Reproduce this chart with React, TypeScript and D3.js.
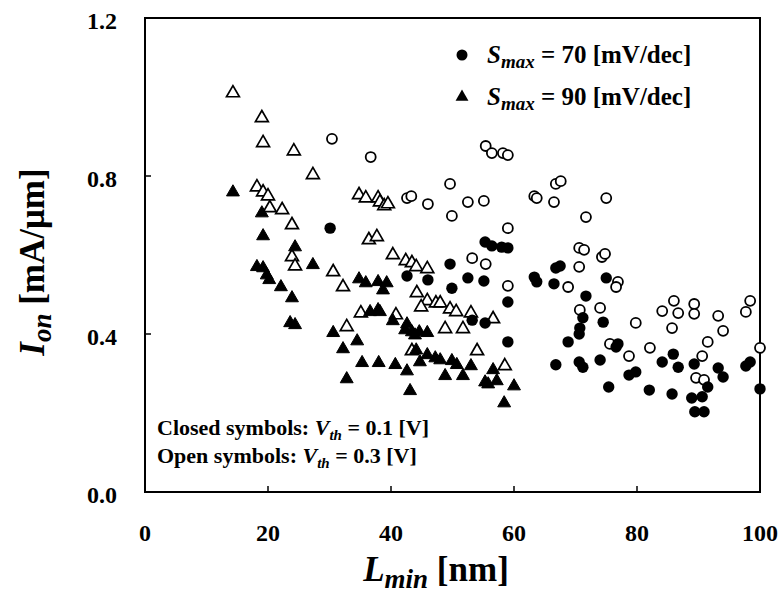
import React from "react";
import * as d3 from "d3";

// ---- data (L_min [nm], I_on [mA/um]) ----
const closedCircleX = [30.1,55.3,56.4,58.0,59.0,49.6,42.6,46.0,52.5,55.1,49.9,63.3,63.7,59.0,53.2,55.3,59.0,66.8,67.5,66.5,75.0,71.7,71.2,70.7,70.6,74.5,68.8,76.9,76.6,66.8,70.6,71.2,74.0,78.7,79.8,75.4,82.0,84.1,85.9,86.7,85.7,89.3,88.9,90.6,89.4,90.9,91.5,93.2,94.0,97.7,98.4,100];
const closedCircleY = [0.668,0.633,0.623,0.620,0.618,0.577,0.547,0.537,0.542,0.534,0.516,0.544,0.532,0.481,0.435,0.428,0.380,0.567,0.572,0.527,0.542,0.496,0.441,0.415,0.400,0.430,0.380,0.375,0.367,0.322,0.329,0.316,0.334,0.296,0.304,0.266,0.258,0.329,0.349,0.316,0.248,0.324,0.238,0.241,0.203,0.203,0.266,0.314,0.291,0.319,0.329,0.261];

const openCircleX = [30.4,36.7,55.4,56.4,58.2,59.0,49.6,42.6,43.3,46.0,49.9,52.5,55.1,63.3,63.7,59.0,53.2,55.4,59.0,66.5,66.8,67.6,75.0,71.7,70.6,71.4,74.3,74.8,70.6,76.9,76.6,68.8,70.7,74.0,79.8,75.6,82.1,78.7,84.1,86.0,86.7,85.7,89.3,89.3,93.2,94.0,91.5,90.6,89.6,90.9,97.7,98.4,100];
const openCircleY = [0.894,0.848,0.876,0.858,0.858,0.853,0.780,0.744,0.749,0.729,0.699,0.734,0.737,0.749,0.744,0.668,0.592,0.577,0.522,0.734,0.780,0.787,0.744,0.696,0.618,0.613,0.595,0.603,0.570,0.532,0.519,0.519,0.461,0.466,0.428,0.375,0.365,0.344,0.458,0.484,0.453,0.415,0.476,0.451,0.446,0.408,0.380,0.344,0.289,0.284,0.456,0.484,0.365];

const closedTriX = [14.3,19.0,19.2,24.4,27.3,18.2,19.2,19.8,20.2,22.1,23.9,23.6,24.4,30.6,32.2,32.8,34.8,35.9,37.9,39.3,38.7,36.6,37.9,38.2,40.3,42.6,42.3,43.4,43.9,44.6,45.9,34.5,44.1,44.7,45.9,47.2,48.0,49.9,50.7,53.0,56.6,35.3,38.0,40.7,42.6,48.8,51.7,55.3,57.2,60.0,43.1,58.4,55.8];
const closedTriY = [0.759,0.706,0.648,0.620,0.575,0.570,0.567,0.549,0.537,0.519,0.491,0.428,0.423,0.403,0.362,0.286,0.539,0.529,0.532,0.529,0.511,0.456,0.461,0.456,0.433,0.425,0.410,0.405,0.397,0.405,0.403,0.382,0.359,0.329,0.347,0.339,0.334,0.332,0.322,0.319,0.309,0.327,0.327,0.322,0.306,0.294,0.294,0.278,0.281,0.268,0.256,0.225,0.273];

const openTriX = [14.3,19.0,19.2,24.2,27.3,18.2,19.2,20.0,20.3,22.3,23.9,23.9,24.4,30.6,32.2,32.8,34.8,35.9,37.9,38.2,38.9,39.5,36.4,37.7,40.3,42.4,43.4,44.1,45.9,44.2,45.9,44.9,47.3,48.0,49.6,50.6,53.0,56.6,35.1,40.8,48.8,51.7,43.4,54.0,58.5];
const openTriY = [1.010,0.947,0.884,0.863,0.803,0.772,0.759,0.749,0.719,0.714,0.676,0.595,0.572,0.557,0.519,0.418,0.752,0.744,0.744,0.734,0.724,0.729,0.638,0.646,0.600,0.585,0.580,0.570,0.565,0.504,0.484,0.468,0.478,0.478,0.463,0.456,0.453,0.438,0.453,0.448,0.413,0.413,0.357,0.357,0.319];

const xTicks = [0, 20, 40, 60, 80, 100];
const yTicks = [0.0, 0.4, 0.8, 1.2];

const W = 782, H = 603;
const left = 145, top = 18, right = 760, bottom = 492;
const FONT = "'Liberation Serif', 'Times New Roman', serif";

const zip = (xs: number[], ys: number[]) => xs.map((x, i) => [x, ys[i]] as [number, number]);

export default function App() {
  const x = d3.scaleLinear().domain([0, 100]).range([left, right]);
  const y = d3.scaleLinear().domain([0, 1.2]).range([bottom, top]);
  const tri = d3.symbol().type(d3.symbolTriangle).size(72)() as string;

  const closedC = zip(closedCircleX, closedCircleY);
  const openC = zip(openCircleX, openCircleY);
  const closedT = zip(closedTriX, closedTriY);
  const openT = zip(openTriX, openTriY);

  return (
    <svg width={W} height={H} style={{ position: "absolute", left: 0, top: 0, background: "#fff" }} fontFamily={FONT}>
      <rect x={0} y={0} width={W} height={H} fill="#fff" />
      {/* frame */}
      <rect x={left} y={top} width={right - left} height={bottom - top} fill="none" stroke="#000" strokeWidth={2} />
      {/* ticks */}
      {xTicks.map((t) => (
        <g key={"xt" + t}>
          <line x1={x(t)} x2={x(t)} y1={bottom} y2={bottom - 6} stroke="#000" strokeWidth={1.5} />
          <text x={x(t)} y={541} textAnchor="middle" fontSize={24} fontWeight="bold">{t}</text>
        </g>
      ))}
      {yTicks.map((t) => (
        <g key={"yt" + t}>
          <line x1={left} x2={left + 6} y1={y(t)} y2={y(t)} stroke="#000" strokeWidth={1.5} />
          <text x={117} y={y(t) + 3} dy="0.35em" textAnchor="end" fontSize={24} fontWeight="bold">{t.toFixed(1)}</text>
        </g>
      ))}
      {/* open markers */}
      {openT.map(([a, b], i) => (
        <path key={"ot" + i} d={tri} transform={`translate(${x(a)},${y(b)})`} fill="#fff" stroke="#000" strokeWidth={1.7} />
      ))}
      {openC.map(([a, b], i) => (
        <circle key={"oc" + i} cx={x(a)} cy={y(b)} r={5} fill="#fff" stroke="#000" strokeWidth={1.8} />
      ))}
      {/* closed markers */}
      {closedT.map(([a, b], i) => (
        <path key={"ct" + i} d={tri} transform={`translate(${x(a)},${y(b)})`} fill="#000" stroke="#000" strokeWidth={1} />
      ))}
      {closedC.map(([a, b], i) => (
        <circle key={"cc" + i} cx={x(a)} cy={y(b)} r={5.7} fill="#000" />
      ))}
      {/* legend */}
      <circle cx={462} cy={55} r={5.5} fill="#000" />
      <text x={487} y={63} fontSize={25} fontWeight="bold">
        <tspan fontStyle="italic">S</tspan>
        <tspan fontStyle="italic" fontSize={19} dy={5}>max</tspan>
        <tspan dy={-5}> = 70 [mV/dec]</tspan>
      </text>
      <path d={tri} transform="translate(462,97)" fill="#000" />
      <text x={487} y={105} fontSize={25} fontWeight="bold">
        <tspan fontStyle="italic">S</tspan>
        <tspan fontStyle="italic" fontSize={19} dy={5}>max</tspan>
        <tspan dy={-5}> = 90 [mV/dec]</tspan>
      </text>
      {/* annotations */}
      <text x={157} y={435} fontSize={22} fontWeight="bold">
        Closed symbols: <tspan fontStyle="italic">V</tspan>
        <tspan fontStyle="italic" fontSize={15} dy={5}>th</tspan>
        <tspan dy={-5}> = 0.1 [V]</tspan>
      </text>
      <text x={157} y={463} fontSize={22} fontWeight="bold">
        Open symbols: <tspan fontStyle="italic">V</tspan>
        <tspan fontStyle="italic" fontSize={15} dy={5}>th</tspan>
        <tspan dy={-5}> = 0.3 [V]</tspan>
      </text>
      {/* axis titles */}
      <text x={436} y={581} textAnchor="middle" fontSize={35} fontWeight="bold">
        <tspan fontStyle="italic">L</tspan>
        <tspan fontStyle="italic" fontSize={27} dy={7}>min</tspan>
        <tspan dy={-7}> [nm]</tspan>
      </text>
      <text transform="translate(44,262) rotate(-90)" textAnchor="middle" fontSize={35} fontWeight="bold">
        <tspan fontStyle="italic">I</tspan>
        <tspan fontStyle="italic" fontSize={27} dy={7}>on</tspan>
        <tspan dy={-7}> [mA/μm]</tspan>
      </text>
    </svg>
  );
}
